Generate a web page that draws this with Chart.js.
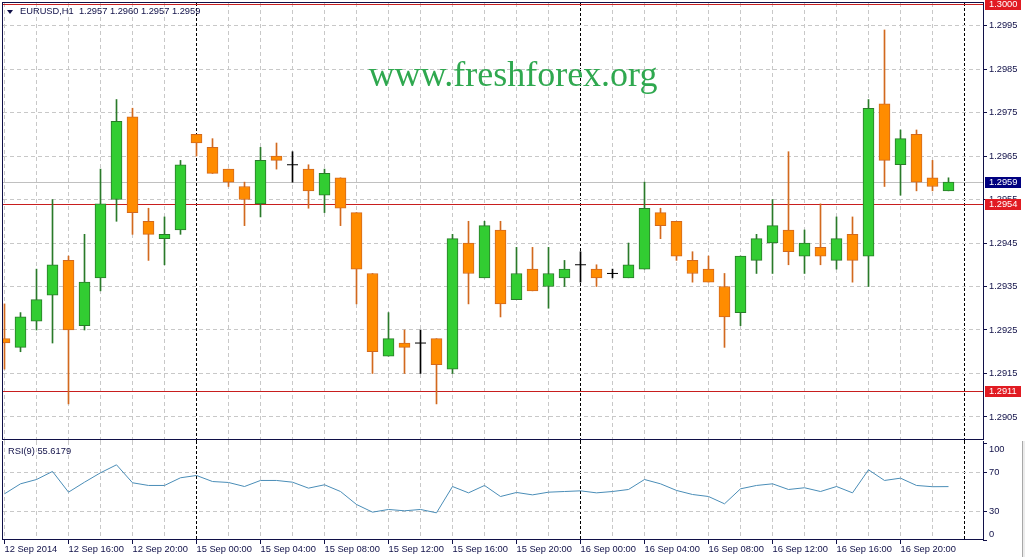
<!DOCTYPE html>
<html lang="en">
<head>
<meta charset="utf-8">
<title>EURUSD,H1</title>
<script src="https://cdn.jsdelivr.net/npm/chart.js@4.4.1/dist/chart.umd.min.js"></script>
<style>
  body { margin: 0; width: 1025px; height: 557px; overflow: hidden; position: relative; background: #fff; font-family: "Liberation Sans", Arial, sans-serif; }
  canvas { position: absolute; left: 0; }
  #price-chart { top: 0; }
  #rsi-chart { top: 441px; }
  .txt { position: absolute; white-space: nowrap; color: #101048; font-size: 9.3px; line-height: 11px; }
  #header { left: 20px; top: 6px; }
  #header-arrow { position: absolute; left: 7px; top: 10px; width: 0; height: 0; border-left: 3.5px solid transparent; border-right: 3.5px solid transparent; border-top: 4px solid #101048; }
  #rsi-label { left: 8px; top: 446px; }
  #watermark { position: absolute; left: 0; width: 1026px; top: 56px; text-align: center; font-family: "Liberation Serif", "Times New Roman", serif; font-size: 36px; line-height: 36px; color: #2fa84f; }
  #frame-edge { position: absolute; left: 1022px; top: 441px; width: 3px; height: 116px; background: #ececec; border-left: 1px solid #a8a8a8; }
</style>
</head>
<body>
<canvas id="price-chart" width="1025" height="441"></canvas>
<canvas id="rsi-chart" width="1025" height="116"></canvas>
<div id="header-arrow"></div>
<div id="header" class="txt">EURUSD,H1&nbsp; 1.2957 1.2960 1.2957 1.2959</div>
<div id="watermark">www.freshforex.org</div>
<div id="rsi-label" class="txt">RSI(9) 55.6179</div>
<div id="frame-edge"></div>
<script>
// Hourly EURUSD bars, 12 Sep 2014 12:00 .. 16 Sep 2014 23:00
const opens = [
  1.2923, 1.2921, 1.2927, 1.2933, 1.2941, 1.2926, 1.2937, 1.2955, 1.2974, 1.2950, 1.2946, 1.2948,
  1.2970, 1.2967, 1.2962, 1.2958, 1.2954, 1.2965, 1.2963, 1.2962, 1.2956, 1.2960, 1.2952, 1.2938,
  1.2919, 1.2922, 1.2922, 1.2923, 1.2916, 1.2945, 1.2937, 1.2948, 1.2932, 1.2939, 1.2935, 1.2937,
  1.2940, 1.2939, 1.2938, 1.2937, 1.2939, 1.2952, 1.2950, 1.2941, 1.2939, 1.2935, 1.2929, 1.2941,
  1.2945, 1.2948, 1.2942, 1.2944, 1.2941, 1.2947, 1.2942, 1.2977, 1.2963, 1.2970, 1.2960, 1.2957
];
const highs = [
  1.2931, 1.2929, 1.2939, 1.2955, 1.2942, 1.2947, 1.2962, 1.2978, 1.2976, 1.2953, 1.2951, 1.2964,
  1.2970, 1.2969, 1.2962, 1.2959, 1.2967, 1.2968, 1.2966, 1.2963, 1.2962, 1.2960, 1.2952, 1.2938,
  1.2929, 1.2925, 1.2925, 1.2923, 1.2947, 1.2950, 1.2950, 1.2950, 1.2944, 1.2944, 1.2944, 1.2941,
  1.2943, 1.2940, 1.2939, 1.2945, 1.2959, 1.2953, 1.2950, 1.2943, 1.2942, 1.2938, 1.2942, 1.2947,
  1.2955, 1.2966, 1.2948, 1.2954, 1.2951, 1.2951, 1.2978, 1.2994, 1.2971, 1.2971, 1.2964, 1.2960
];
const lows = [
  1.2916, 1.2920, 1.2925, 1.2922, 1.2908, 1.2925, 1.2934, 1.2950, 1.2947, 1.2941, 1.2940, 1.2947,
  1.2965, 1.2961, 1.2958, 1.2949, 1.2951, 1.2962, 1.2959, 1.2953, 1.2952, 1.2949, 1.2931, 1.2915,
  1.2919, 1.2915, 1.2915, 1.2908, 1.2915, 1.2931, 1.2937, 1.2928, 1.2932, 1.2934, 1.2930, 1.2935,
  1.2936, 1.2935, 1.2937, 1.2937, 1.2939, 1.2946, 1.2941, 1.2936, 1.2936, 1.2921, 1.2926, 1.2938,
  1.2938, 1.2940, 1.2938, 1.2940, 1.2939, 1.2936, 1.2935, 1.2958, 1.2956, 1.2957, 1.2957, 1.2957
];
const closes = [
  1.2922, 1.2928, 1.2932, 1.2940, 1.2925, 1.2936, 1.2954, 1.2973, 1.2952, 1.2947, 1.2947, 1.2963,
  1.2968, 1.2961, 1.2959, 1.2955, 1.2964, 1.2964, 1.2963, 1.2957, 1.2961, 1.2953, 1.2939, 1.2920,
  1.2923, 1.2921, 1.2922, 1.2917, 1.2946, 1.2938, 1.2949, 1.2931, 1.2938, 1.2934, 1.2938, 1.2939,
  1.2940, 1.2937, 1.2938, 1.2940, 1.2953, 1.2949, 1.2942, 1.2938, 1.2936, 1.2928, 1.2942, 1.2946,
  1.2949, 1.2943, 1.2945, 1.2942, 1.2946, 1.2941, 1.2976, 1.2964, 1.2969, 1.2959, 1.2958, 1.2959
];
const rsiValues = [
  48.1, 58.5, 63.0, 71.4, 49.8, 60.2, 70.0, 78.3, 59.6, 56.8, 56.8, 64.8,
  67.2, 60.9, 59.9, 55.7, 62.0, 62.0, 60.2, 54.0, 57.5, 50.5, 37.0, 29.0,
  31.8, 30.4, 31.8, 28.3, 55.7, 49.1, 56.8, 45.3, 49.5, 47.0, 49.8, 50.5,
  51.2, 49.1, 50.5, 52.6, 63.0, 58.5, 51.6, 47.4, 45.3, 37.7, 53.3, 56.8,
  58.5, 52.6, 54.4, 50.5, 55.7, 49.1, 73.1, 62.0, 64.4, 56.8, 55.5, 55.6179
];

// Axis ticks and labels
const priceTicks = [1.2905, 1.2915, 1.2925, 1.2935, 1.2945, 1.2955, 1.2965, 1.2975, 1.2985, 1.2995];
const rsiTicks = [0, 30, 70, 100];
const rsiGridLevels = [30, 70];
const timeLabels = ['12 Sep 2014', '12 Sep 16:00', '12 Sep 20:00', '15 Sep 00:00', '15 Sep 04:00',
  '15 Sep 08:00', '15 Sep 12:00', '15 Sep 16:00', '15 Sep 20:00', '16 Sep 00:00', '16 Sep 04:00',
  '16 Sep 08:00', '16 Sep 12:00', '16 Sep 16:00', '16 Sep 20:00'];
const labelBars = [0, 4, 8, 12, 16, 20, 24, 28, 32, 36, 40, 44, 48, 52, 56];
const gridBars = [0, 2, 4, 6, 8, 10, 12, 14, 16, 18, 20, 22, 24, 26, 28, 30,
  32, 34, 36, 38, 40, 42, 44, 46, 48, 50, 52, 54, 56, 58, 60];
const daySeparators = [12, 36, 60];

// Horizontal lines drawn on the chart
const levelLines = [1.3000, 1.2954, 1.2911];
const lastPrice = closes[closes.length - 1];

const ink = '#101048';
const gridGray = '#c8c8c8';
const bullFill = '#32cd32', bullLine = '#2a7a2a';
const bearFill = '#ff8c00', bearLine = '#d2691e';
const tickFont = { family: 'Liberation Sans', size: 9.3 };

const xMin = -0.09375, xMax = 61.15625;

const barIndex = opens.map((o, i) => i);
const bodyBars = barIndex.filter(i => opens[i] !== closes[i]);
const dojiBars = barIndex.filter(i => opens[i] === closes[i]);
const isBull = i => closes[i] > opens[i];

// Fixes an axis size and stops it from pushing the plot area in
function fixSize(s, size) {
  if (s.isHorizontal()) s.height = size; else s.width = size;
  s.paddingTop = 0;
  s.paddingBottom = 0;
  s.paddingLeft = 0;
  s.paddingRight = 0;
}

// Shared vertical grid: light dashed every 2 bars, black dashed at day change
function xGrid(extra) {
  return Object.assign({
    type: 'linear', min: xMin, max: xMax, offset: false,
    grid: {
      offset: false,
      color: c => daySeparators.includes(c.tick.value) ? '#000' : gridGray,
      tickBorderDash: []
    },
    border: { display: false, dash: c => (c.tick && daySeparators.includes(c.tick.value)) ? [3, 2] : [4, 3] },
    afterBuildTicks: s => { s.ticks = gridBars.map(v => ({ value: v })); }
  }, extra);
}

// Draws the navy frame round the plotting area
function drawFrame(chart) {
  const { ctx, chartArea: a } = chart;
  ctx.save();
  ctx.strokeStyle = ink;
  ctx.lineWidth = 1;
  ctx.strokeRect(a.left - 0.5, a.top - 0.5, a.right - a.left + 1, a.bottom - a.top);
  ctx.restore();
}

const priceOverlay = {
  id: 'priceOverlay',
  beforeDatasetsDraw(chart) {
    const { ctx, chartArea: a, scales: { y } } = chart;
    ctx.save();
    ctx.lineWidth = 1;
    // bid line
    let py = Math.round(y.getPixelForValue(lastPrice)) + 0.5;
    ctx.strokeStyle = '#c0c0c0';
    ctx.beginPath(); ctx.moveTo(a.left, py); ctx.lineTo(a.right, py); ctx.stroke();
    // support / resistance lines
    ctx.strokeStyle = '#c81e1e';
    levelLines.forEach(level => {
      py = Math.round(y.getPixelForValue(level)) + 0.5;
      ctx.beginPath(); ctx.moveTo(a.left, py); ctx.lineTo(a.right, py); ctx.stroke();
    });
    ctx.restore();
  },
  afterDraw(chart) {
    drawFrame(chart);
    const { ctx, chartArea: a, scales: { y } } = chart;
    ctx.save();
    ctx.font = '9.3px "Liberation Sans"';
    ctx.textBaseline = 'middle';
    const tag = (value, bg) => {
      const py = Math.round(y.getPixelForValue(value));
      ctx.fillStyle = bg;
      ctx.fillRect(a.right + 2, py - 5, 36, 11);
      ctx.fillStyle = '#fff';
      ctx.fillText(value.toFixed(4), a.right + 6, py + 0.5);
    };
    levelLines.forEach(level => tag(level, '#e11b22'));
    tag(lastPrice, '#000080');
    ctx.restore();
  }
};

new Chart(document.getElementById('price-chart'), {
  type: 'bar',
  data: {
    datasets: [
      {
        // candle bodies
        data: bodyBars.map(i => ({ x: i, y: [opens[i], closes[i]] })),
        backgroundColor: bodyBars.map(i => isBull(i) ? bullFill : bearFill),
        borderColor: bodyBars.map(i => isBull(i) ? bullLine : bearLine),
        borderWidth: 1,
        borderSkipped: false,
        barThickness: 11,
        grouped: false,
        order: 0
      },
      {
        // dojis: open equals close
        type: 'scatter',
        data: dojiBars.map(i => ({ x: i, y: opens[i] })),
        pointStyle: 'line',
        radius: 5.5,
        borderColor: '#000',
        borderWidth: 1,
        order: 0
      },
      {
        // wicks, high to low
        data: barIndex.map(i => ({ x: i, y: [lows[i], highs[i]] })),
        backgroundColor: barIndex.map(i => opens[i] === closes[i] ? '#000' : (isBull(i) ? bullLine : bearLine)),
        borderWidth: 0,
        barThickness: 1,
        grouped: false,
        order: 1
      }
    ]
  },
  options: {
    responsive: false,
    animation: false,
    devicePixelRatio: 1,
    layout: { autoPadding: false, padding: { left: 3, top: 3, right: 0, bottom: 1 } },
    plugins: { legend: { display: false }, tooltip: { enabled: false } },
    scales: {
      x: xGrid({
        ticks: { display: false },
        afterFit: s => fixSize(s, 0)
      }),
      y: {
        type: 'linear', position: 'right', min: 1.28997, max: 1.30002,
        grid: { color: gridGray, tickColor: ink, tickLength: 4, tickBorderDash: [] },
        border: { display: false, dash: [4, 3] },
        ticks: { color: ink, font: tickFont, padding: 2, callback: v => v.toFixed(4) },
        afterBuildTicks: s => { s.ticks = priceTicks.map(v => ({ value: v })); },
        afterFit: s => fixSize(s, 42)
      }
    }
  },
  plugins: [priceOverlay]
});

new Chart(document.getElementById('rsi-chart'), {
  type: 'line',
  data: {
    datasets: [{
      data: barIndex.map(i => ({ x: i, y: rsiValues[i] })),
      borderColor: '#4a8db7',
      borderWidth: 1,
      pointRadius: 0,
      tension: 0
    }]
  },
  options: {
    responsive: false,
    animation: false,
    devicePixelRatio: 1,
    layout: { autoPadding: false, padding: { left: 3, top: 0, right: 0, bottom: 0 } },
    plugins: { legend: { display: false }, tooltip: { enabled: false } },
    scales: {
      x: xGrid({
        position: 'bottom',
        grid: {
          offset: false,
          color: c => daySeparators.includes(c.tick.value) ? '#000' : gridGray,
          tickColor: c => labelBars.includes(c.tick.value) ? ink : 'rgba(0,0,0,0)',
          tickLength: 4,
          tickBorderDash: []
        },
        ticks: {
          autoSkip: false, maxRotation: 0, align: 'start', padding: 0,
          color: ink, font: tickFont,
          callback: v => { const k = labelBars.indexOf(v); return k >= 0 ? timeLabels[k] : ''; }
        },
        afterFit: s => fixSize(s, 17)
      }),
      y: {
        type: 'linear', position: 'right', min: 0, max: 103.1,
        grid: {
          color: c => rsiGridLevels.includes(c.tick.value) ? gridGray : 'rgba(0,0,0,0)',
          tickColor: ink, tickLength: 4, tickBorderDash: []
        },
        border: { display: false, dash: [4, 3] },
        ticks: {
          color: ink, font: tickFont, padding: 2,
          // 100 and 0 sit inside the window, like the terminal does
          callback: v => v === 100 ? ['', '100'] : (v === 0 ? ['0', ''] : String(v))
        },
        afterBuildTicks: s => { s.ticks = rsiTicks.map(v => ({ value: v })); },
        afterFit: s => fixSize(s, 42)
      }
    }
  },
  plugins: [{ id: 'rsiFrame', afterDraw: drawFrame }]
});
</script>
</body>
</html>
